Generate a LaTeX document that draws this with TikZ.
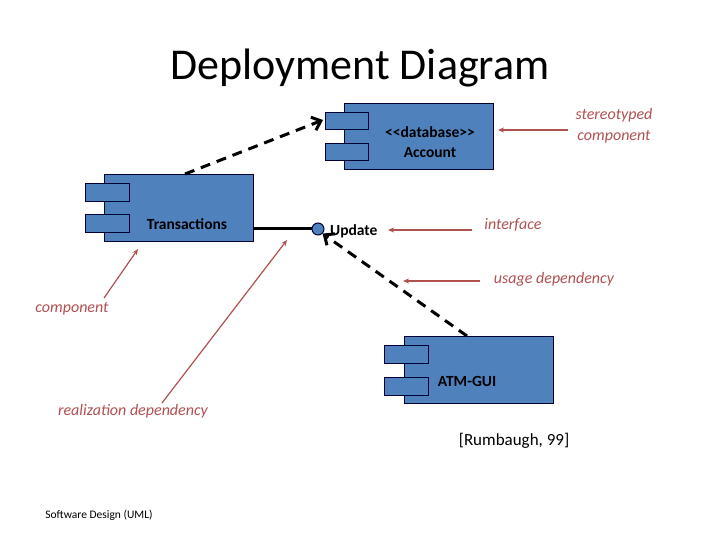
\documentclass[tikz,border=0pt]{standalone}
\usepackage{fontspec}
\setmainfont{Carlito}
\usetikzlibrary{arrows.meta}
\definecolor{boxblue}{HTML}{4F81BD}
\definecolor{redl}{HTML}{B05050}
\begin{document}
\begin{tikzpicture}[x=1pt,y=-1pt,
  comp/.style={draw=black!80!blue,fill=boxblue,line width=0.8pt},
  redarrow/.style={draw=redl,line width=1.2pt,-{Stealth[length=6pt,width=5pt]}},
  dep/.style={draw=black,line width=3pt,dash pattern=on 10pt off 7pt,-{Straight Barb[length=8pt,width=14pt,line width=3pt]}},
  redtxt/.style={text=redl,font=\itshape\fontsize{16}{21}\selectfont},
  lbl/.style={font=\bfseries\fontsize{15.5}{20}\selectfont}]
\useasboundingbox (0,0) rectangle (720,540);
\node (title) at (360,68) {\fontsize{44}{50}\selectfont Deployment Diagram};
% Account
\path[comp] (344,103) rectangle (493,169);
\path[comp] (325,112) rectangle (368,129);
\path[comp] (325,143) rectangle (368,160);
\node[lbl,align=center] (acc) at (430,142) {{<}{<}database{>}{>}\\Account};
\coordinate (accport) at (323,120);
% Transactions
\path[comp] (104,174) rectangle (253,241);
\path[comp] (85,183) rectangle (129,201);
\path[comp] (85,214) rectangle (129,232);
\node[lbl] (tr) at (187,224) {Transactions};
\coordinate (trtop) at (185,174);
\coordinate (trright) at (253,229);
% interface
\node[circle,draw=black!80!blue,fill=boxblue,line width=1pt,minimum size=12pt,inner sep=0pt] (upd) at (318,229) {};
\draw[line width=3pt] (trright) -- (upd.west);
\node[lbl,anchor=west,inner sep=0pt] (updt) at (330,231) {Update};
% ATM-GUI
\path[comp] (404,336) rectangle (553,403);
\path[comp] (384,345) rectangle (428,363);
\path[comp] (384,377) rectangle (428,395);
\node[lbl] (atm) at (467,381) {ATM-GUI};
\coordinate (atmtop) at (467,336);
% dependencies
\draw[dep] (trtop) -- (accport);
\draw[dep] (atmtop) -- (upd.south east);
% annotations
\node[redtxt,align=center] (st) at (614,126) {stereotyped\\component};
\coordinate (sta) at (568,130); \coordinate (stb) at (498,130);
\draw[redarrow] (sta) -- (stb);
\node[redtxt] (itf) at (513,225) {interface};
\coordinate (ia) at (472,230); \coordinate (ib) at (388,230);
\draw[redarrow] (ia) -- (ib);
\node[redtxt] (use) at (554,279) {usage dependency};
\coordinate (ua) at (480,281); \coordinate (ub) at (403,281);
\draw[redarrow] (ua) -- (ub);
\node[redtxt] (cp) at (72,309) {component};
\coordinate (ca) at (104,298); \coordinate (cb) at (138,249);
\draw[redarrow] (ca) -- (cb);
\node[redtxt] (rd) at (133,411) {realization dependency};
\coordinate (ra) at (162,403); \coordinate (rb) at (287,240);
\draw[redarrow] (ra) -- (rb);
\node (rum) at (514,441) {\fontsize{17}{20}\selectfont [Rumbaugh, 99]};
\node (sd) at (99,515) {\fontsize{11.5}{14}\selectfont Software Design (UML)};
\end{tikzpicture}
\end{document}
